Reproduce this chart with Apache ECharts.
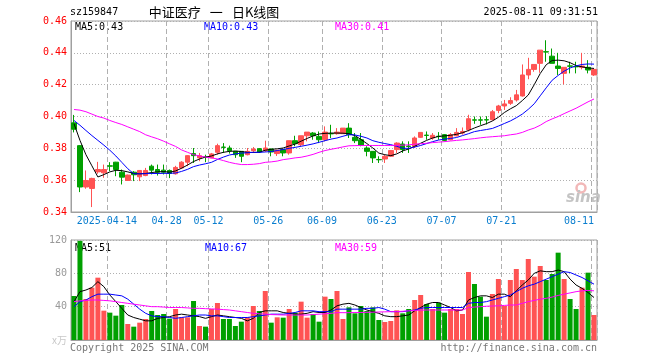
<!DOCTYPE html>
<html><head><meta charset="utf-8">
<script src="https://cdn.jsdelivr.net/npm/echarts@6/dist/echarts.min.js"></script>
<style>html,body{margin:0;padding:0;background:#fff}#c{width:660px;height:360px}</style>
</head><body><div id="c"></div>
<script>
const dates = ['2025-04-03','2025-04-07','2025-04-08','2025-04-09','2025-04-10','2025-04-11','2025-04-14','2025-04-15','2025-04-16','2025-04-17','2025-04-18','2025-04-21','2025-04-22','2025-04-23','2025-04-24','2025-04-25','2025-04-28','2025-04-29','2025-04-30',
'2025-05-06','2025-05-07','2025-05-08','2025-05-09','2025-05-12','2025-05-13','2025-05-14','2025-05-15','2025-05-16','2025-05-19','2025-05-20','2025-05-21','2025-05-22','2025-05-23','2025-05-26','2025-05-27','2025-05-28','2025-05-29','2025-05-30',
'2025-06-03','2025-06-04','2025-06-05','2025-06-06','2025-06-09','2025-06-10','2025-06-11','2025-06-12','2025-06-13','2025-06-16','2025-06-17','2025-06-18','2025-06-19','2025-06-20','2025-06-23','2025-06-24','2025-06-25','2025-06-26','2025-06-27','2025-06-30',
'2025-07-01','2025-07-02','2025-07-03','2025-07-04','2025-07-07','2025-07-08','2025-07-09','2025-07-10','2025-07-11','2025-07-14','2025-07-15','2025-07-16','2025-07-17','2025-07-18','2025-07-21','2025-07-22','2025-07-23','2025-07-24','2025-07-25','2025-07-28','2025-07-29','2025-07-30','2025-07-31',
'2025-08-01','2025-08-04','2025-08-05','2025-08-06','2025-08-07','2025-08-08','2025-08-11'];
const tickDates = ['2025-04-14','2025-04-28','2025-05-12','2025-05-26','2025-06-09','2025-06-23','2025-07-07','2025-07-21','2025-08-11'];

const openP = [0.3960,0.3817,0.3557,0.3548,0.3652,0.3646,0.3690,0.3713,0.3650,0.3598,
0.3650,0.3621,0.3629,0.3688,0.3667,0.3663,0.3661,0.3640,0.3677,0.3713,
0.3767,0.3740,0.3746,0.3740,0.3775,0.3808,0.3802,0.3781,0.3781,0.3760,
0.3785,0.3798,0.3785,0.3796,0.3767,0.3792,0.3771,0.3848,0.3823,0.3879,
0.3896,0.3875,0.3854,0.3893,0.3892,0.3892,0.3927,0.3869,0.3854,0.3802,
0.3781,0.3730,0.3733,0.3750,0.3792,0.3827,0.3814,0.3813,0.3869,0.3883,
0.3865,0.3876,0.3886,0.3854,0.3879,0.3896,0.3917,0.3979,0.3979,0.3980,
0.3980,0.4038,0.4066,0.4083,0.4104,0.4129,0.4261,0.4296,0.4334,0.4407,
0.4379,0.4317,0.4271,0.4318,0.4314,0.4309,0.4309,0.4261];
const closeP = [0.3920,0.3557,0.3598,0.3611,0.3667,0.3667,0.3688,0.3667,0.3619,0.3632,
0.3634,0.3661,0.3661,0.3663,0.3650,0.3650,0.3642,0.3680,0.3713,0.3754,
0.3754,0.3754,0.3744,0.3765,0.3817,0.3806,0.3785,0.3760,0.3750,0.3781,
0.3796,0.3777,0.3802,0.3777,0.3788,0.3771,0.3848,0.3829,0.3879,0.3902,
0.3879,0.3854,0.3902,0.3891,0.3902,0.3927,0.3886,0.3848,0.3819,0.3781,
0.3740,0.3728,0.3750,0.3786,0.3833,0.3792,0.3812,0.3865,0.3900,0.3881,
0.3882,0.3874,0.3850,0.3886,0.3900,0.3906,0.3986,0.3977,0.3977,0.3978,
0.4030,0.4066,0.4079,0.4100,0.4136,0.4261,0.4296,0.4327,0.4417,0.4405,
0.4334,0.4302,0.4309,0.4316,0.4312,0.4317,0.4292,0.4296];
const lowP = [0.3900,0.3525,0.3546,0.3431,0.3640,0.3615,0.3657,0.3625,0.3573,0.3595,
0.3594,0.3594,0.3625,0.3636,0.3629,0.3636,0.3613,0.3635,0.3670,0.3688,
0.3708,0.3719,0.3713,0.3738,0.3760,0.3771,0.3767,0.3740,0.3713,0.3756,
0.3771,0.3771,0.3777,0.3750,0.3752,0.3750,0.3760,0.3813,0.3813,0.3844,
0.3854,0.3833,0.3844,0.3865,0.3886,0.3892,0.3865,0.3833,0.3813,0.3750,
0.3708,0.3708,0.3708,0.3748,0.3771,0.3771,0.3771,0.3802,0.3865,0.3854,
0.3854,0.3854,0.3844,0.3850,0.3875,0.3886,0.3906,0.3954,0.3948,0.3950,
0.3975,0.4021,0.4041,0.4073,0.4094,0.4125,0.4234,0.4281,0.4275,0.4344,
0.4334,0.4261,0.4202,0.4271,0.4271,0.4296,0.4271,0.4255];
const highP = [0.4010,0.3820,0.3661,0.3615,0.3715,0.3698,0.3713,0.3715,0.3667,0.3635,
0.3657,0.3663,0.3677,0.3698,0.3698,0.3698,0.3667,0.3690,0.3719,0.3756,
0.3802,0.3771,0.3760,0.3771,0.3829,0.3833,0.3817,0.3781,0.3781,0.3802,
0.3808,0.3802,0.3848,0.3798,0.3790,0.3800,0.3848,0.3879,0.3879,0.3902,
0.3902,0.3906,0.3938,0.3948,0.3927,0.3927,0.3958,0.3896,0.3896,0.3813,
0.3781,0.3750,0.3761,0.3786,0.3838,0.3844,0.3844,0.3875,0.3900,0.3906,
0.3896,0.3902,0.3890,0.3896,0.3927,0.3931,0.4011,0.4000,0.4000,0.4002,
0.4041,0.4073,0.4104,0.4121,0.4167,0.4327,0.4369,0.4327,0.4417,0.4479,
0.4427,0.4400,0.4309,0.4344,0.4344,0.4400,0.4354,0.4300];

const ma5 = [0.3955,0.3850,0.3760,0.3690,0.3620,0.3635,0.3652,0.3662,0.3660,0.3652,
0.3642,0.3640,0.3642,0.3648,0.3652,0.3654,0.3650,0.3658,0.3675,0.3695,
0.3717,0.3733,0.3745,0.3752,0.3765,0.3775,0.3781,0.3783,0.3780,0.3775,
0.3774,0.3775,0.3788,0.3794,0.3797,0.3802,0.3815,0.3827,0.3845,0.3862,
0.3878,0.3890,0.3894,0.3896,0.3896,0.3895,0.3892,0.3880,0.3856,0.3830,
0.3802,0.3770,0.3760,0.3754,0.3765,0.3784,0.3796,0.3813,0.3832,0.3850,
0.3865,0.3875,0.3878,0.3882,0.3888,0.3898,0.3912,0.3928,0.3942,0.3955,
0.3972,0.3995,0.4025,0.4048,0.4068,0.4100,0.4135,0.4200,0.4270,0.4325,
0.4352,0.4354,0.4350,0.4338,0.4320,0.4312,0.4305,0.4302];
const ma10 = [0.3975,0.3945,0.3912,0.3880,0.3850,0.3820,0.3788,0.3752,0.3712,0.3672,
0.3640,0.3640,0.3641,0.3642,0.3642,0.3643,0.3643,0.3645,0.3655,0.3668,
0.3685,0.3695,0.3703,0.3712,0.3730,0.3745,0.3758,0.3765,0.3770,0.3772,
0.3775,0.3775,0.3777,0.3780,0.3786,0.3793,0.3800,0.3806,0.3813,0.3820,
0.3828,0.3838,0.3848,0.3858,0.3865,0.3876,0.3886,0.3884,0.3876,0.3865,
0.3848,0.3838,0.3830,0.3823,0.3813,0.3800,0.3800,0.3808,0.3818,0.3830,
0.3842,0.3852,0.3858,0.3862,0.3868,0.3880,0.3892,0.3905,0.3912,0.3918,
0.3925,0.3940,0.3956,0.3972,0.3992,0.4015,0.4045,0.4080,0.4130,0.4180,
0.4228,0.4258,0.4285,0.4305,0.4318,0.4327,0.4330,0.4329];
const ma30 = [0.4044,0.4040,0.4030,0.4015,0.4000,0.3990,0.3975,0.3962,0.3950,0.3935,
0.3920,0.3905,0.3885,0.3872,0.3860,0.3845,0.3828,0.3812,0.3790,0.3775,
0.3760,0.3752,0.3745,0.3740,0.3733,0.3723,0.3712,0.3704,0.3698,0.3698,
0.3700,0.3704,0.3712,0.3715,0.3720,0.3729,0.3734,0.3740,0.3744,0.3752,
0.3762,0.3775,0.3786,0.3794,0.3801,0.3809,0.3816,0.3817,0.3818,0.3818,
0.3818,0.3818,0.3818,0.3818,0.3819,0.3820,0.3822,0.3826,0.3829,0.3832,
0.3836,0.3839,0.3842,0.3846,0.3850,0.3853,0.3857,0.3861,0.3866,0.3870,
0.3873,0.3876,0.3879,0.3885,0.3890,0.3900,0.3915,0.3927,0.3945,0.3968,
0.3985,0.4000,0.4018,0.4035,0.4052,0.4072,0.4092,0.4110];

const vol = [52.8,119,49.2,62.8,74.8,35.2,32.8,29.2,42,19.2,
16,20.8,25.2,34.8,30,31.2,25.6,37.2,27.2,27.2,
46.8,16.8,16,37.2,44.4,25.2,25.2,16.8,22,27.2,
40.8,34.8,58.8,20.8,27.2,26.8,37.2,32.8,46,26.8,
31.2,22,52,49.2,58.8,25.2,39.2,32,40.8,34.8,
39.2,24,21.6,22.8,35.6,32,37.2,48,54,43.2,
37.2,44.8,32.8,37.2,37.2,31.2,81.6,67.2,52,28,
55.2,73.2,40.8,72,85.2,72,97.2,76,88.8,72,
79.2,104.8,73.2,49.2,37.2,62.8,80.8,30];
const volMa5 = [46,58,60,63,70,64,54,46,38,30,27,25,23,23,26,27,28,30,31,30,
29,28,26,28,30,29,28,27,26,23,26,33,35,35,35,33,32,31,31,32,
34,33,33,36,41,43,44,42,39,36,34,32,29,28,28,29,30,35,39,43,
45,45,42,39,35,36,48,51,53,53,51,55,55,52,59,66,72,80,83,82,
82,84,82,73,66,62,57,51];
const volMa10 = [40,46,48,52,55,55,55,54,53,49,43,37,32,29,28,28,27,26,27,28,
29,30,30,29,29,28,27,27,27,27,28,29,30,31,31,31,32,33,35,35,
35,34,34,34,37,37,37,37,37,38,38,39,37,34,34,34,35,36,38,39,
39,39,39,39,39,39,44,45,45,46,48,50,52,54,58,62,65,67,70,73,
76,79,82,81,78,75,71,67];
const volMa30 = [46,47,47.5,48,48,47.5,47,46,45,44,43,42,41,40,40,39.5,39,39,39,38.5,
38,38,37.6,37.3,37,36.5,36,35,34,33,32,31.5,31,30.5,30.3,30,30,30,30,30,
30.5,31,31.5,32,32.8,32.8,32.8,33,33,33.2,33.4,33.6,33.8,34,34,34.5,35,35.5,35.8,36,
36,36,36,36,36,36,39,39.5,40,40.5,40.8,41,41.5,42,42,44,46,47.5,49,50,
51.5,53.5,55,56.5,58,59,59.5,59];

const MONO = '"DejaVu Sans Mono", "Liberation Mono", monospace';
const CJK = '"Noto Sans CJK SC", sans-serif';
const UP = '#ff5353', DOWN = '#00a000';
const BORDER = '#a0a0a0', GRIDC = '#b0b0b0';
const last = dates.length - 1;

const candle = dates.map((d, i) => [openP[i], closeP[i], lowP[i], highP[i]]);
const volData = vol.map((v, i) => ({ value: v, itemStyle: { color: closeP[i] >= openP[i] ? UP : DOWN } }));
const isTick = (i) => tickDates.indexOf(dates[i]) >= 0;
const splitX = { show: true, interval: (i) => isTick(i), lineStyle: { color: GRIDC, type: [5, 3], width: 1 } };
const splitY = { show: true, lineStyle: { color: GRIDC, type: [1, 2], width: 1 } };

const chart = echarts.init(document.getElementById('c'), null, { renderer: 'canvas' });
const txt = (text, x, y, fill, opts) => Object.assign({
  type: 'text', silent: true,
  style: Object.assign({ text, x, y, fill, font: '10px ' + MONO, align: 'left', verticalAlign: 'middle' }, opts || {})
});
const lineS = (name, data, color, ax) => ({
  type: 'line', name, data, xAxisIndex: ax, yAxisIndex: ax, symbol: 'none', showSymbol: false,
  lineStyle: { color, width: 1 }, z: 5, silent: true
});

chart.setOption({
  animation: false,
  backgroundColor: '#fff',
  grid: [
    { left: 71, top: 21, width: 526, height: 191, show: true, borderColor: BORDER, borderWidth: 1 },
    { left: 71, top: 240, width: 526, height: 100, show: true, borderColor: BORDER, borderWidth: 1 }
  ],
  xAxis: [
    { type: 'category', gridIndex: 0, data: dates, boundaryGap: true,
      axisLine: { lineStyle: { color: BORDER } }, axisTick: { show: false }, splitLine: splitX,
      axisLabel: { interval: (i) => isTick(i), color: '#0a7ecf', fontFamily: MONO, fontSize: 10, margin: 4,
        alignMaxLabel: 'right',
        formatter: (v, i) => i === last ? v.slice(5) : '{s|' + (v === '2025-04-14' ? v : v.slice(5)) + '}',
        rich: { s: { padding: [0, 6, 0, 0], color: '#0a7ecf', fontFamily: MONO, fontSize: 10 } } } },
    { type: 'category', gridIndex: 1, data: dates, boundaryGap: true,
      axisLine: { lineStyle: { color: BORDER } }, axisTick: { show: false }, axisLabel: { show: false }, splitLine: splitX }
  ],
  yAxis: [
    { type: 'value', gridIndex: 0, min: 0.34, max: 0.46, interval: 0.02, scale: true,
      axisLine: { show: true, lineStyle: { color: BORDER } }, axisTick: { show: false }, splitLine: splitY,
      axisLabel: { color: '#ff0000', fontFamily: MONO, fontSize: 10, margin: 4, formatter: (v) => v.toFixed(2) } },
    { type: 'value', gridIndex: 1, min: 0, max: 120, interval: 40,
      axisLine: { show: true, lineStyle: { color: BORDER } }, axisTick: { show: false }, splitLine: splitY,
      axisLabel: { color: '#999', fontFamily: MONO, fontSize: 10, margin: 4,
        formatter: (v) => v === 0 ? '{u|x万}' : String(v),
        rich: { u: { color: '#c8c8c8', fontFamily: CJK, fontSize: 10 } } } }
  ],
  series: [
    { type: 'candlestick', data: candle, xAxisIndex: 0, yAxisIndex: 0, barWidth: 5, silent: true,
      itemStyle: { color: UP, color0: DOWN, borderColor: UP, borderColor0: DOWN, borderWidth: 1 } },
    lineS('MA5', ma5, '#000000', 0),
    lineS('MA10', ma10, '#0000ff', 0),
    lineS('MA30', ma30, '#ff00ff', 0),
    { type: 'bar', data: volData, xAxisIndex: 1, yAxisIndex: 1, barWidth: 5, silent: true },
    lineS('VMA5', volMa5, '#000000', 1),
    lineS('VMA10', volMa10, '#0000ff', 1),
    lineS('VMA30', volMa30, '#ff00ff', 1)
  ],
  graphic: [
    txt('sz159847', 70, 12, '#000'),
    txt('中证医疗\u2002\u2009一\u2002\u2009日K线图', 214, 12, '#000', { font: '13px ' + CJK, align: 'center' }),
    txt('2025-08-11 09:31:51', 598, 12, '#000', { align: 'right' }),
    txt('MA5:' + ma5[last].toFixed(2), 75, 27, '#000'),
    txt('MA10:' + ma10[last].toFixed(2), 204, 27, '#0000ff'),
    txt('MA30:' + ma30[last].toFixed(2), 335, 27, '#ff00ff'),
    txt('MA5:' + Math.round(volMa5[last]), 75, 248, '#000'),
    txt('MA10:' + Math.round(volMa10[last]), 205, 248, '#0000ff'),
    txt('MA30:' + Math.round(volMa30[last]), 335, 248, '#ff00ff'),
    txt('Copyright 2025 SINA.COM', 70, 348, '#777'),
    txt('http://finance.sina.com.cn', 597, 348, '#777', { align: 'right' }),
    { type: 'circle', silent: true, shape: { cx: 581, cy: 188, r: 4.5 }, style: { fill: 'none', stroke: '#f2b8b8', lineWidth: 2.5 } },
    txt('sina', 566, 198, '#c4c4c4', { font: 'italic bold 15px "DejaVu Sans", sans-serif' })
  ]
});
</script></body></html>
